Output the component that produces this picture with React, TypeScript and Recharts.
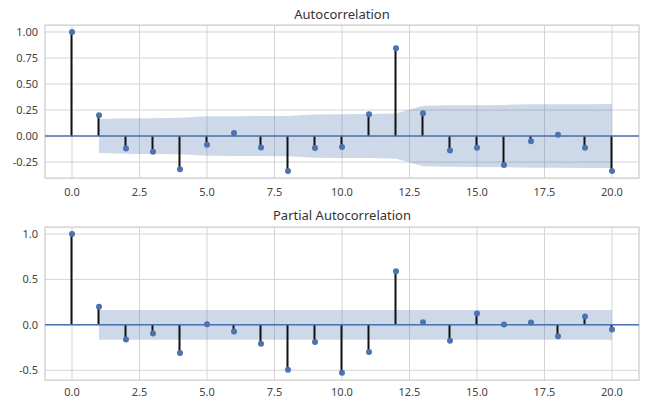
import React from "react";
import {
  ComposedChart,
  Bar,
  Line,
  Area,
  XAxis,
  YAxis,
  CartesianGrid,
  ReferenceLine,
  ReferenceArea,
} from "recharts";

// lags 0..20, values
const LAGS = [0, 1, 2, 3, 4, 5, 6, 7, 8, 9, 10, 11, 12, 13, 14, 15, 16, 17, 18, 19, 20];

const ACF = [
  1.0, 0.2, -0.12, -0.15, -0.32, -0.083, 0.029, -0.109, -0.336, -0.115, -0.106,
  0.209, 0.843, 0.218, -0.138, -0.112, -0.279, -0.051, 0.013, -0.112, -0.336,
];
// half-width of the shaded confidence band (none at lag 0)
const ACF_BAND = [
  null, 0.163, 0.17, 0.172, 0.175, 0.19, 0.191, 0.192, 0.193, 0.208, 0.21,
  0.211, 0.217, 0.291, 0.296, 0.297, 0.299, 0.305, 0.305, 0.306, 0.307,
];

const PACF = [
  1.0, 0.198, -0.161, -0.095, -0.311, 0.007, -0.073, -0.209, -0.495, -0.19, -0.527,
  -0.3, 0.59, 0.029, -0.176, 0.125, 0.004, 0.026, -0.125, 0.092, -0.051,
];
const PACF_BAND = [
  null, 0.163, 0.163, 0.163, 0.163, 0.163, 0.163, 0.163, 0.163, 0.163, 0.163,
  0.163, 0.163, 0.163, 0.163, 0.163, 0.163, 0.163, 0.163, 0.163, 0.163,
];

const X_TICKS = [0, 2.5, 5, 7.5, 10, 12.5, 15, 17.5, 20];
const ACF_Y_TICKS = [-0.25, 0, 0.25, 0.5, 0.75, 1.0];
const PACF_Y_TICKS = [-0.5, 0, 0.5, 1.0];

const BLUE = "#4C72B0";
const GRID = "#d4d4d4";
const TEXT = "#444444";
const FONT = "'Noto Sans', 'Open Sans', sans-serif";

function rows(values: number[], band: (number | null)[]) {
  return LAGS.map((lag, i) => ({
    lag,
    value: values[i],
    band: band[i] == null ? null : [-(band[i] as number), band[i] as number],
  }));
}

function CorrPanel({
  title,
  values,
  band,
  yTicks,
  yDomain,
  decimals,
  top,
  height,
  marginTop,
  titleTop,
  xTickMargin,
}: {
  title: string;
  values: number[];
  band: (number | null)[];
  yTicks: number[];
  yDomain: [number, number];
  decimals: number;
  top: number;
  height: number;
  marginTop: number;
  titleTop: number;
  xTickMargin: number;
}) {
  const data = rows(values, band);
  return (
    <div style={{ position: "absolute", left: 0, top, width: 656, height }}>
      <div
        style={{
          position: "absolute",
          left: 45,
          width: 594,
          top: titleTop,
          textAlign: "center",
          fontSize: 13,
          color: "#333",
          fontFamily: FONT,
        }}
      >
        {title}
      </div>
      <ComposedChart
        width={656}
        height={height}
        data={data}
        margin={{ top: marginTop, right: 17, left: 0, bottom: 0 }}
        style={{ fontFamily: FONT }}
      >
        <CartesianGrid stroke={GRID} strokeWidth={1} horizontalValues={yTicks} verticalValues={X_TICKS} />
        <XAxis
          type="number"
          dataKey="lag"
          domain={[-1, 21]}
          ticks={X_TICKS}
          tickFormatter={(v: number) => v.toFixed(1)}
          axisLine={false}
          tickLine={false}
          tickSize={4}
          tickMargin={xTickMargin}
          height={height - marginTop - 153}
          tick={{ fill: TEXT, fontSize: 11 }}
          interval={0}
        />
        <YAxis
          type="number"
          domain={yDomain}
          ticks={yTicks}
          allowDataOverflow
          tickFormatter={(v: number) => v.toFixed(decimals)}
          axisLine={false}
          tickLine={false}
          tickSize={4}
          tickMargin={3}
          width={45}
          tick={{ fill: TEXT, fontSize: 11 }}
          interval={0}
        />
        <Area
          dataKey="band"
          type="linear"
          stroke="none"
          fill={BLUE}
          fillOpacity={0.28}
          isAnimationActive={false}
        />
        <Bar dataKey="value" barSize={2} fill="#111111" isAnimationActive={false} />
        <ReferenceLine y={0} stroke={BLUE} strokeWidth={1.5} />
        <Line
          dataKey="value"
          stroke="none"
          dot={{ r: 3, fill: BLUE, stroke: "none" }}
          activeDot={false}
          isAnimationActive={false}
        />
        <ReferenceArea
          x1={-1}
          x2={21}
          y1={yDomain[0]}
          y2={yDomain[1]}
          fill="none"
          fillOpacity={0}
          stroke="#cccccc"
          strokeWidth={1.25}
        />
      </ComposedChart>
    </div>
  );
}

export default function App() {
  return (
    <div style={{ position: "absolute", left: 0, top: 0, width: 656, height: 412, background: "#fff" }}>
      <CorrPanel
        title="Autocorrelation"
        values={ACF}
        band={ACF_BAND}
        yTicks={ACF_Y_TICKS}
        yDomain={[-0.403, 1.067]}
        decimals={2}
        top={0}
        height={200}
        marginTop={25}
        titleTop={5}
        xTickMargin={6}
      />
      <CorrPanel
        title="Partial Autocorrelation"
        values={PACF}
        band={PACF_BAND}
        yTicks={PACF_Y_TICKS}
        yDomain={[-0.607, 1.077]}
        decimals={1}
        top={200}
        height={212}
        marginTop={27}
        titleTop={6}
        xTickMargin={4}
      />
    </div>
  );
}
